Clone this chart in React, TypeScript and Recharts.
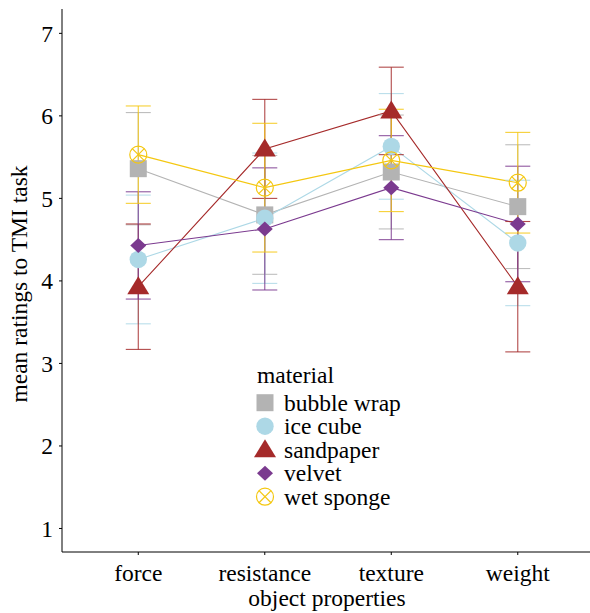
import React from 'react';
import { LineChart, Line, XAxis, YAxis, ErrorBar, Legend, Label } from 'recharts';

const categories = ['force', 'resistance', 'texture', 'weight'];
const yTicks = [1, 2, 3, 4, 5, 6, 7];

const bubbleWrap = [5.36, 4.8, 5.32, 4.9];
const bubbleWrapErr = [0.68, 0.72, 0.69, 0.75];
const iceCube = [4.26, 4.76, 5.63, 4.46];
const iceCubeErr = [0.78, 0.79, 0.64, 0.76];
const sandpaper = [3.93, 5.6, 6.06, 3.93];
const sandpaperErr = [0.76, 0.6, 0.53, 0.79];
const velvet = [4.43, 4.63, 5.13, 4.69];
const velvetErr = [0.65, 0.74, 0.63, 0.7];
const wetSponge = [5.53, 5.13, 5.46, 5.19];
const wetSpongeErr = [0.59, 0.78, 0.62, 0.61];

const FONT = 'Liberation Serif, Times New Roman, serif';
const FS = 23.5;

const series = [
  { key: 'bw', name: 'bubble wrap', color: '#b3b3b3', shape: 'square', values: bubbleWrap, errs: bubbleWrapErr },
  { key: 'ic', name: 'ice cube', color: '#add8e6', shape: 'circle', values: iceCube, errs: iceCubeErr },
  { key: 'sp', name: 'sandpaper', color: '#a52a2a', shape: 'triangle', values: sandpaper, errs: sandpaperErr },
  { key: 'vv', name: 'velvet', color: '#7b3a8f', shape: 'diamond', values: velvet, errs: velvetErr },
  { key: 'ws', name: 'wet sponge', color: '#f4c710', shape: 'sponge', values: wetSponge, errs: wetSpongeErr },
];

const data = categories.map((c, i) => {
  const row: any = { x: i + 1, name: c };
  series.forEach((s) => {
    row[s.key] = s.values[i];
    row[s.key + 'Err'] = s.errs[i];
  });
  return row;
});

function marker(shape: string, cx: number, cy: number, color: string, key?: string) {
  switch (shape) {
    case 'square':
      return <rect key={key} x={cx - 8.5} y={cy - 8.5} width={17} height={17} fill={color} />;
    case 'circle':
      return <circle key={key} cx={cx} cy={cy} r={8.7} fill={color} />;
    case 'triangle':
      return (
        <polygon
          key={key}
          points={`${cx},${cy - 10.5} ${cx - 11},${cy + 7.5} ${cx + 11},${cy + 7.5}`}
          fill={color}
        />
      );
    case 'diamond':
      return (
        <polygon
          key={key}
          points={`${cx},${cy - 7.5} ${cx + 8},${cy} ${cx},${cy + 7.5} ${cx - 8},${cy}`}
          fill={color}
        />
      );
    default: {
      const d = 8.5 * Math.SQRT1_2;
      return (
        <g key={key} stroke={color} strokeWidth={1.2} fill="none">
          <circle cx={cx} cy={cy} r={8.5} />
          <line x1={cx - d} y1={cy - d} x2={cx + d} y2={cy + d} />
          <line x1={cx - d} y1={cy + d} x2={cx + d} y2={cy - d} />
        </g>
      );
    }
  }
}

const renderLegend = () => (
  <svg width={180} height={150}>
    <text x={17} y={15} dominantBaseline="central" fontFamily={FONT} fontSize={FS} fill="#000">
      material
    </text>
    {series.map((s, i) => {
      const cy = 42.7 + i * 23.5;
      return (
        <g key={s.key}>
          {marker(s.shape, 25, cy, s.color)}
          <text x={44} y={cy} dominantBaseline="central" fontFamily={FONT} fontSize={FS} fill="#000">
            {s.name}
          </text>
        </g>
      );
    })}
  </svg>
);

export default function App() {
  const tickStyle = { fill: '#000', fontFamily: FONT, fontSize: FS };
  return (
    <div style={{ position: 'fixed', left: 0, top: 0, background: '#fff' }}>
      <LineChart width={590} height={613} data={data} margin={{ top: 9, right: 0, bottom: 0, left: 0 }}>
        <XAxis
          type="number"
          dataKey="x"
          domain={[0.397, 4.571]}
          ticks={[1, 2, 3, 4]}
          tickFormatter={(v: number) => categories[v - 1]}
          allowDataOverflow
          height={61}
          tickSize={3}
          tickMargin={9}
          stroke="#000"
          tick={tickStyle}
        >
          <Label
            content={() => (
              <text x={327} y={606} textAnchor="middle" fontFamily={FONT} fontSize={FS} fill="#000">
                object properties
              </text>
            )}
          />
        </XAxis>
        <YAxis
          type="number"
          domain={[0.715, 7.295]}
          ticks={yTicks}
          allowDataOverflow
          width={62}
          tickSize={3}
          tickMargin={6}
          stroke="#000"
          tick={tickStyle}
        >
          <Label
            content={() => (
              <text
                x={19}
                y={284}
                transform="rotate(-90, 19, 284)"
                textAnchor="middle"
                dominantBaseline="central"
                fontFamily={FONT}
                fontSize={FS}
                fill="#000"
              >
                mean ratings to TMI task
              </text>
            )}
          />
        </YAxis>
        <Legend
          layout="vertical"
          align="center"
          verticalAlign="middle"
          content={renderLegend}
          wrapperStyle={{ left: 240, top: 360, width: 180, height: 150 }}
        />
        {series.map((s) => (
          <Line
            key={s.key + '-line'}
            type="linear"
            dataKey={s.key}
            stroke={s.color}
            strokeWidth={1.1}
            dot={false}
            activeDot={false}
            isAnimationActive={false}
          />
        ))}
        {series.map((s) => (
          <Line
            key={s.key + '-pts'}
            type="linear"
            dataKey={s.key}
            stroke="none"
            dot={(p: any) => marker(s.shape, p.cx, p.cy, s.color, `${s.key}-dot-${p.index}`)}
            activeDot={false}
            isAnimationActive={false}
          />
        ))}
        {series.map((s) => (
          <Line
            key={s.key + '-err'}
            type="linear"
            dataKey={s.key}
            stroke="none"
            dot={false}
            activeDot={false}
            isAnimationActive={false}
          >
            <ErrorBar
              dataKey={s.key + 'Err'}
              direction="y"
              width={12.5}
              stroke={s.color}
              strokeWidth={1.1}
              strokeOpacity={0.85}
            />
          </Line>
        ))}
      </LineChart>
    </div>
  );
}
